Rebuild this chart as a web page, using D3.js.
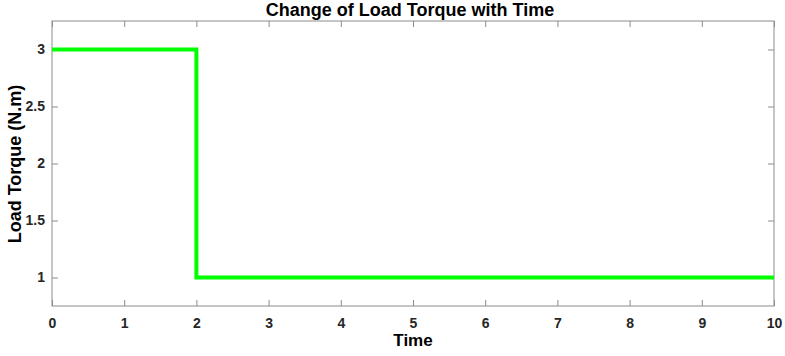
<!DOCTYPE html>
<html>
<head>
<meta charset="utf-8">
<script src="https://cdn.jsdelivr.net/npm/d3@7"></script>
<style>
  body { margin: 0; background: #fff; }
  svg { font-family: "Liberation Sans", Arial, sans-serif; }
</style>
</head>
<body>
<svg id="chart" width="785" height="356"></svg>
<script>
// step change of load torque
var time = [0, 2, 2, 10];
var torque = [3, 3, 1, 1];
var xTicks = [0, 1, 2, 3, 4, 5, 6, 7, 8, 9, 10];
var yTicks = [1, 1.5, 2, 2.5, 3];

var svg = d3.select("#chart");
var m = {left: 52, top: 21, right: 11, bottom: 50};
var W = 785, H = 356;
var x = d3.scaleLinear().domain([0, 10]).range([m.left, W - m.right]);
var y = d3.scaleLinear().domain([0.75, 3.25]).range([H - m.bottom, m.top]);

var axisColor = "#8c8c8c";
var textColor = "#262626";

// box
svg.append("rect")
  .attr("x", x(0)).attr("y", y(3.25))
  .attr("width", x(10) - x(0)).attr("height", y(0.75) - y(3.25))
  .attr("fill", "none").attr("stroke", axisColor).attr("stroke-width", 1);

function styleAxis(g) {
  g.select(".domain").remove();
  g.selectAll(".tick line").attr("stroke", axisColor);
  g.selectAll(".tick text")
    .attr("fill", textColor)
    .style("font-size", "14px")
    .attr("font-weight", "bold");
}

svg.append("g")
  .attr("transform", "translate(0," + y(0.75) + ")")
  .call(d3.axisBottom(x).tickValues(xTicks).tickSize(-6).tickPadding(12).tickFormat(d3.format("d")))
  .call(styleAxis);

svg.append("g")
  .attr("transform", "translate(0," + y(3.25) + ")")
  .call(d3.axisTop(x).tickValues(xTicks).tickSize(-6).tickFormat(""))
  .call(styleAxis);

svg.append("g")
  .attr("transform", "translate(" + x(0) + ",0)")
  .call(d3.axisLeft(y).tickValues(yTicks).tickSize(-6).tickPadding(7).tickFormat(d3.format("")))
  .call(styleAxis);

svg.append("g")
  .attr("transform", "translate(" + x(10) + ",0)")
  .call(d3.axisRight(y).tickValues(yTicks).tickSize(-6).tickFormat(""))
  .call(styleAxis);

var pts = time.map(function(t, i) { return [t, torque[i]]; });
svg.append("path")
  .datum(pts)
  .attr("fill", "none")
  .attr("stroke", "#00ff00")
  .attr("stroke-width", 4)
  .attr("d", d3.line().x(function(d) { return x(d[0]); }).y(function(d) { return y(d[1]); }));

svg.append("text")
  .attr("x", 410).attr("y", 16)
  .attr("text-anchor", "middle")
  .attr("font-size", 18).attr("font-weight", "bold").attr("fill", "#000")
  .text("Change of Load Torque with Time");

svg.append("text")
  .attr("x", 413).attr("y", 346)
  .attr("text-anchor", "middle")
  .attr("font-size", 17).attr("font-weight", "bold").attr("fill", "#000")
  .text("Time");

svg.append("text")
  .attr("transform", "translate(21,164) rotate(-90)")
  .attr("text-anchor", "middle")
  .attr("font-size", 18).attr("font-weight", "bold").attr("fill", "#000")
  .text("Load Torque (N.m)");
</script>
</body>
</html>
